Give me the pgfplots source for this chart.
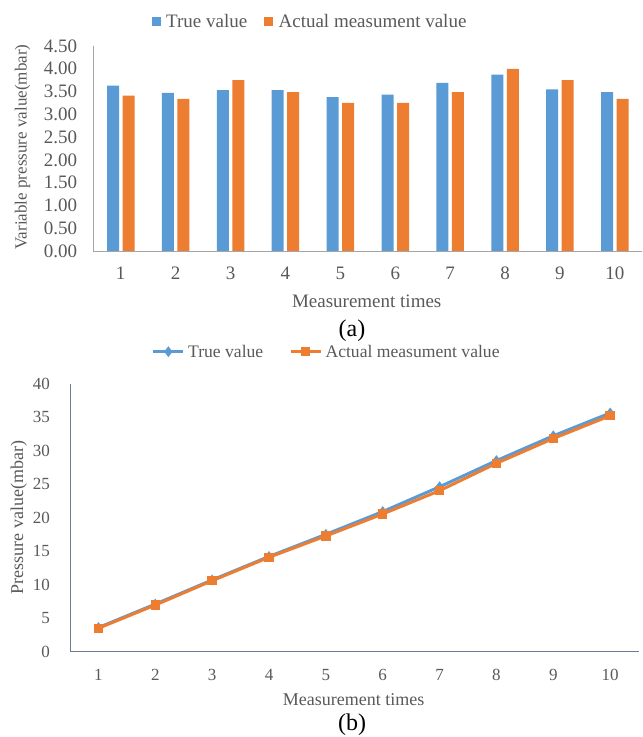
\documentclass[border=0pt]{standalone}
\usepackage{pgfplots}
\pgfplotsset{compat=1.18}
\usepackage{fontspec}
\setmainfont{Liberation Serif}
\definecolor{cblue}{HTML}{5B9BD5}
\definecolor{corange}{HTML}{ED7D31}
\definecolor{ctext}{HTML}{595959}
\definecolor{caxis}{HTML}{A5A5A5}
\definecolor{caxisb}{HTML}{6E7D96}
\begin{document}
\begin{tikzpicture}
\useasboundingbox (0,0) rectangle (643pt,737pt);
% ---------------- (a) ----------------
\begin{axis}[
  at={(93.3pt,486pt)}, anchor=south west,
  scale only axis, width=549pt, height=205pt,
  xmin=0.5, xmax=10.5, ymin=0, ymax=4.5,
  axis lines=left,
  axis line style={draw=caxis, line width=0.9pt, -},
  major tick length=0pt,
  xtick={1,...,10},
  ytick={0,0.5,...,4.5},
  /pgf/number format/assume math mode=true,
  yticklabel style={/pgf/number format/fixed, /pgf/number format/fixed zerofill, /pgf/number format/precision=2,
    anchor=east, inner sep=0pt, xshift=-16pt, font=\fontsize{19}{19}\selectfont, text=ctext},
  xticklabel style={anchor=base, inner sep=0pt, yshift=-28.5pt, font=\fontsize{19}{19}\selectfont, text=ctext},
  xlabel={Measurement times},
  xlabel style={at={(axis description cs:0.498,-0.247)}, anchor=center, inner sep=0pt, font=\fontsize{19}{19}\selectfont, text=ctext},
  ylabel={Variable pressure value(mbar)},
  ylabel style={at={(axis description cs:-0.1288,0.507)}, anchor=center, inner sep=0pt, font=\fontsize{17}{17}\selectfont, text=ctext},
  ybar=3.5pt, bar width=12pt,
  legend columns=2,
  legend style={at={(axis description cs:0.1064,1.1185)}, anchor=west, draw=none, fill=none,
    inner sep=0pt, font=\fontsize{19}{19}\selectfont, text=ctext,
    nodes={inner sep=0pt},
    /tikz/every odd column/.append style={column sep=5.3pt},
    /tikz/every even column/.append style={column sep=17pt}},
  legend image code/.code={\fill[#1] (0pt,-4.5pt) rectangle (9pt,4.5pt);},
]
\addplot[fill=cblue, draw=none] coordinates {
 (1,3.63) (2,3.47) (3,3.53) (4,3.53) (5,3.38) (6,3.43) (7,3.69) (8,3.87) (9,3.55) (10,3.49)};
\addplot[fill=corange, draw=none] coordinates {
 (1,3.41) (2,3.34) (3,3.75) (4,3.49) (5,3.25) (6,3.25) (7,3.49) (8,4.00) (9,3.75) (10,3.34)};
\legend{True value, Actual measument value}
\end{axis}
% ---------------- (b) ----------------
\begin{axis}[
  at={(70pt,85.3pt)}, anchor=south west,
  scale only axis, width=568.6pt, height=268.2pt,
  xmin=0.5, xmax=10.5, ymin=0, ymax=40,
  axis lines=left,
  axis line style={draw=caxisb, line width=0.9pt, -},
  major tick length=0pt,
  xtick={1,...,10},
  ytick={0,5,...,40},
  /pgf/number format/assume math mode=true,
  yticklabel style={anchor=east, inner sep=0pt, xshift=-20pt, font=\fontsize{17}{17}\selectfont, text=ctext},
  xticklabel style={anchor=base, inner sep=0pt, yshift=-29pt, font=\fontsize{17}{17}\selectfont, text=ctext},
  xlabel={Measurement times},
  xlabel style={at={(axis description cs:0.4988,-0.180)}, anchor=center, inner sep=0pt, font=\fontsize{18}{18}\selectfont, text=ctext},
  ylabel={Pressure value(mbar)},
  ylabel style={at={(axis description cs:-0.090,0.5)}, anchor=center, inner sep=0pt, font=\fontsize{18}{18}\selectfont, text=ctext},
  legend columns=2,
  legend style={at={(axis description cs:0.1436,1.1186)}, anchor=west, draw=none, fill=none,
    inner sep=0pt, font=\fontsize{17.6}{17.6}\selectfont, text=ctext,
    nodes={inner sep=0pt},
    /tikz/every odd column/.append style={column sep=3.3pt},
    /tikz/every even column/.append style={column sep=26pt}},
  legend image code/.code={\draw[mark repeat=2, mark phase=2, #1] plot coordinates {(0pt,0pt) (15pt,0pt) (30pt,0pt)};},
]
\addplot[color=cblue, line width=3pt, mark=diamond*, mark size=3pt, mark options={solid}] coordinates {
 (1,3.6) (2,7.1) (3,10.7) (4,14.2) (5,17.5) (6,20.9) (7,24.6) (8,28.5) (9,32.2) (10,35.6)};
\addplot[color=corange, line width=3pt, mark=square*, mark size=4.2pt, mark options={solid, line width=0pt}] coordinates {
 (1,3.5) (2,6.96) (3,10.59) (4,14.08) (5,17.26) (6,20.54) (7,24.02) (8,28.1) (9,31.8) (10,35.2)};
\legend{True value, Actual measument value}
\end{axis}
\node[font=\fontsize{24}{24}\selectfont, inner sep=0pt] at (352pt,406pt) {(a)};
\node[font=\fontsize{24}{24}\selectfont, inner sep=0pt] at (352pt,12pt) {(b)};
\end{tikzpicture}
\end{document}
